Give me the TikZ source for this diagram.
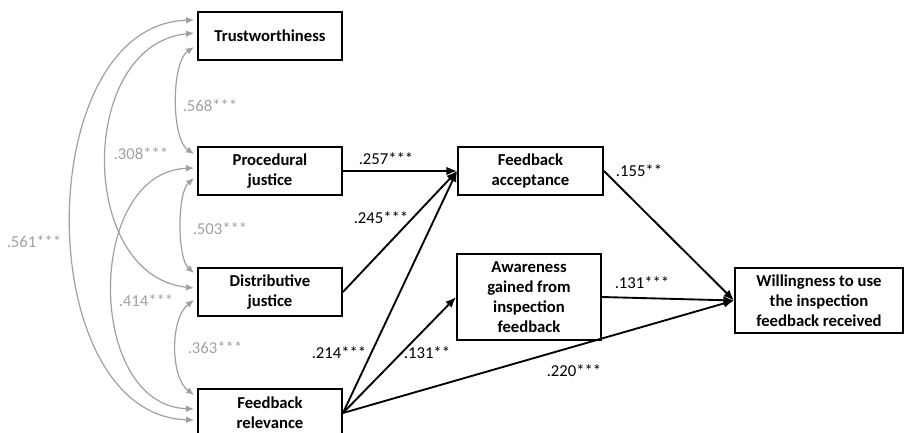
\documentclass[tikz,border=0pt]{standalone}
\usepackage{fontspec}
\setmainfont{Carlito}
\usetikzlibrary{arrows.meta}
\definecolor{covgray}{RGB}{160,160,160}
\begin{document}
\begin{tikzpicture}[x=0.75pt,y=-0.75pt,
  box/.style={draw=black, line width=1.4pt, inner sep=0pt, align=center,
    font=\fontsize{12.5}{15}\selectfont\bfseries},
  lbl/.style={inner sep=0pt, font=\fontsize{12.5}{15}\selectfont},
  glbl/.style={lbl, text=covgray},
  reg/.style={line width=1.4pt, -{Latex[length=8pt,width=6.5pt]}},
  cov/.style={draw=covgray, line width=0.9pt,
    {Latex[length=6pt,width=5pt]}-{Latex[length=6pt,width=5pt]}}
]
\clip (0,0) rectangle (905,432);
% boxes
\node[box, minimum width=108pt, minimum height=36pt] (T) at (270,36) {Trustworthiness};
\node[box, minimum width=108pt, minimum height=36pt] (P) at (270,171) {Procedural\\justice};
\node[box, minimum width=108pt, minimum height=36pt] (D) at (270,292) {Distributive\\justice};
\node[box, minimum width=108pt, minimum height=36pt] (R) at (270,413) {Feedback\\relevance};
\node[box, minimum width=108.75pt, minimum height=36pt] (A) at (530.5,171) {Feedback\\acceptance};
\node[box, minimum width=108pt, minimum height=64.5pt] (G) at (529,297) {Awareness\\gained from\\inspection\\feedback};
\node[box, minimum width=126pt, minimum height=48.75pt] (W) at (819,300.5) {Willingness to use\\the inspection\\feedback received};
% regression paths
\draw[reg] (P.east) -- (A.west);
\draw[reg] (D.east) -- (A.west);
\draw[reg] (R.east) -- (A.west);
\draw[reg] (R.east) -- (G.west);
\draw[reg] (R.east) -- (W.west);
\draw[reg] (G.east) -- (W.west);
\draw[reg] (A.east) -- (W.west);
% covariances
\draw[cov] ([xshift=-2.25pt,yshift=-8.25pt]T.west) .. controls +(-23,15) and +(-23,-15) .. ([xshift=-2.25pt,yshift=12.75pt]P.west);
\draw[cov] ([xshift=-2.25pt,yshift=-5.25pt]P.west) .. controls +(-17,15) and +(-17,-15) .. ([xshift=-2.25pt,yshift=14.25pt]D.west);
\draw[cov] ([xshift=-2.25pt,yshift=-6pt]D.west) .. controls +(-24,18) and +(-24,-18) .. ([xshift=-2.25pt,yshift=13.5pt]R.west);
\draw[cov] ([xshift=-2.25pt,yshift=2.25pt]T.west) .. controls +(-117,12) and +(-117,-12) .. ([xshift=-2.25pt,yshift=3pt]D.west);
\draw[cov] ([xshift=-2.25pt,yshift=12pt]T.west) .. controls +(-164,5) and +(-164,-5) .. ([xshift=-2.25pt,yshift=-5.25pt]R.west);
\draw[cov] ([xshift=-2.25pt,yshift=2.25pt]P.west) .. controls +(-109,4) and +(-109,-4) .. ([xshift=-2.25pt,yshift=3pt]R.west);
% covariance labels
\node[glbl] (c1) at (210,106) {.568***};
\node[glbl] (c2) at (141,154) {.308***};
\node[glbl] (c3) at (220,229) {.503***};
\node[glbl] (c4) at (34,242) {.561***};
\node[glbl] (c5) at (146,301) {.414***};
\node[glbl] (c6) at (215,348) {.363***};
% path labels
\node[lbl] (b1) at (386,159) {.257***};
\node[lbl] (b2) at (381,218) {.245***};
\node[lbl] (b3) at (339,353) {.214***};
\node[lbl] (b4) at (427,353) {.131**};
\node[lbl] (b5) at (574,371) {.220***};
\node[lbl] (b6) at (639,171) {.155**};
\node[lbl] (b7) at (642,283) {.131***};
\end{tikzpicture}
\end{document}
